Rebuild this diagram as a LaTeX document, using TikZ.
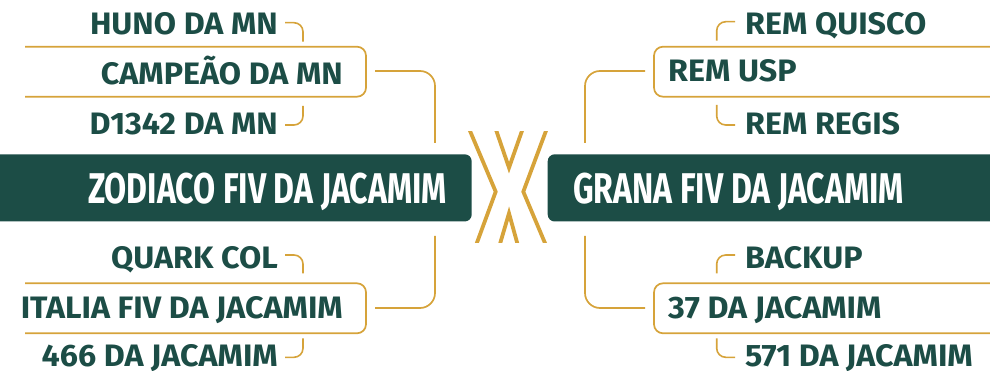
\documentclass[tikz,border=0pt]{standalone}
\usepackage{fontspec}
\setmainfont{Fira Sans}
\newfontfamily\itemfont[FakeStretch=1.04]{Fira Sans}
\newfontfamily\headfont[FakeStretch=0.745]{Fira Sans}
\definecolor{pine}{HTML}{1C4D46}
\definecolor{ochre}{HTML}{D6A33A}
\tikzset{
  item/.style={text=pine, inner sep=0pt, font=\itemfont\bfseries\fontsize{31}{31}\selectfont},
  head/.style={text=white, inner sep=0pt, font=\headfont\bfseries\fontsize{43}{43}\selectfont},
  bar/.style={fill=pine, rounded corners=7pt},
  frame/.style={draw=ochre, line width=1.7pt, rounded corners=9pt},
  hook/.style={draw=ochre, line width=1.6pt, rounded corners=9pt},
  trunk/.style={draw=ochre, line width=1.7pt, rounded corners=15pt},
  cross/.style={draw=ochre, line width=3.8pt},
}
\begin{document}
\begin{tikzpicture}[x=1pt,y=-1pt]
\useasboundingbox (0,0) rectangle (990,371);
\clip (0,0) rectangle (990,371);

% central bars
\fill[bar] (-20,154.3) rectangle (471.7,221.5);
\fill[bar] (547.7,154.3) rectangle (1010,221.5);
\node[head, anchor=base east] (zodiaco) at (447,203.3) {ZODIACO FIV DA JACAMIM};
\node[head, anchor=base west] (grana) at (573,203.3) {GRANA FIV DA JACAMIM};

% the X between them
\begin{scope}
  \clip (455,131.7) rectangle (565,242.3);
  \draw[cross] (467.8,125.7) -- (495.7,191.7) -- (474.9,248.3);
  \draw[cross] (547.9,125.7) -- (523.3,191.7) -- (547.2,248.3);
  \draw[cross] (494.7,126) -- (509,167.7) -- (523.7,126);
  \draw[cross] (499,247.3) -- (509,213.3) -- (518.4,247.3);
\end{scope}

% left side
\node[item, anchor=base east] (huno) at (278,34.3) {HUNO DA MN};
\node[item, anchor=base east] (campeao) at (343,84.3) {CAMPEÃO DA MN};
\node[item, anchor=base east] (d1342) at (278,134.3) {D1342 DA MN};
\node[item, anchor=base east] (quark) at (278,268.3) {QUARK COL};
\node[item, anchor=base east] (italia) at (343,318.3) {ITALIA FIV DA JACAMIM};
\node[item, anchor=base east] (j466) at (278,366.5) {466 DA JACAMIM};

\draw[frame] (25,46.7) -- (366,46.7) -- (366,96.7) -- (25,96.7);
\draw[frame] (25,283.3) -- (366,283.3) -- (366,333.3) -- (25,333.3);

\coordinate (lup) at (435,143);
\coordinate (ldown) at (435,236);
\draw[hook] ([shift={(7,-11.6)}]huno.base east) -| (303,41.7);
\draw[hook] (303,106) |- ([shift={(7,-9.3)}]d1342.base east);
\draw[hook] ([shift={(7,-13.3)}]quark.base east) -| (303,273.3);
\draw[hook] (303,338.3) |- ([shift={(7,-9.2)}]j466.base east);
\draw[trunk] ([shift={(32,-13.3)}]campeao.base east) -| (lup);
\draw[trunk] ([shift={(32,-10.3)}]italia.base east) -| (ldown);

% right side
\node[item, anchor=base west] (quisco) at (745,34.3) {REM QUISCO};
\node[item, anchor=base west] (usp) at (668,81.7) {REM USP};
\node[item, anchor=base west] (regis) at (745,134.3) {REM REGIS};
\node[item, anchor=base west] (backup) at (745,268.3) {BACKUP};
\node[item, anchor=base west] (j37) at (668,318.3) {37 DA JACAMIM};
\node[item, anchor=base west] (j571) at (745,366.5) {571 DA JACAMIM};

\draw[frame] (1000,46.7) -- (654,46.7) -- (654,96.7) -- (1000,96.7);
\draw[frame] (1000,283.3) -- (654,283.3) -- (654,333.3) -- (1000,333.3);

\coordinate (rup) at (585,143);
\coordinate (rdown) at (585,236);
\draw[hook] ([shift={(-10,-12.6)}]quisco.base west) -| (716.7,40.7);
\draw[hook] (716.7,105) |- ([shift={(-10,-9.3)}]regis.base west);
\draw[hook] ([shift={(-10,-13.3)}]backup.base west) -| (716.7,273.3);
\draw[hook] (716.7,338.3) |- ([shift={(-10,-9.2)}]j571.base west);
\draw[trunk] ([shift={(-23,-10.7)}]usp.base west) -| (rup);
\draw[trunk] ([shift={(-23,-10.3)}]j37.base west) -| (rdown);
\end{tikzpicture}
\end{document}
